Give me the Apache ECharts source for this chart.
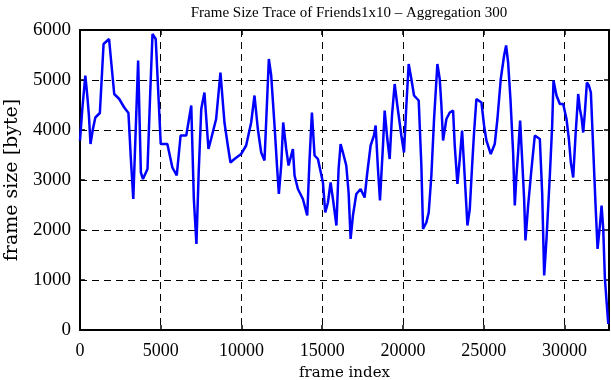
<!DOCTYPE html>
<html>
<head>
<meta charset="utf-8">
<script src="https://cdn.jsdelivr.net/npm/echarts@6/dist/echarts.min.js"></script>
<style>
  html, body { margin: 0; padding: 0; background: #fff; }
  #chart { width: 611px; height: 380px; }
</style>
</head>
<body>
<div id="chart"></div>
<script>
// frame index / frame size
const frames = [
  0, 150, 330, 450, 550, 650, 800, 950, 1230, 1460, 1800, 2120, 2430, 2740, 3000,
  3150, 3300, 3600, 3770, 3900, 4180, 4350, 4490, 4690, 5000, 5410, 5720, 5990,
  6230, 6580, 6890, 7050, 7210, 7350, 7510, 7706, 7954, 8119, 8430, 8698, 8946,
  9153, 9318, 9566, 9980, 10290, 10600, 10806, 11013, 11220, 11426, 11695, 11840,
  12047, 12212, 12315, 12460, 12584, 12770, 12915, 13184, 13287, 13494, 13804,
  14072, 14217, 14362, 14527, 14734, 15044, 15189, 15354, 15519, 15664, 15880,
  16014, 16138, 16283, 16490, 16634, 16758, 16903, 17110, 17378, 17626, 17792,
  17998, 18205, 18308, 18453, 18577, 18763, 18867, 19032, 19177, 19321, 19487,
  19652, 19900, 20065, 20210, 20355, 20520, 20686, 20975, 21140, 21244, 21450,
  21595, 21760, 21926, 22132, 22277, 22381, 22484, 22691, 22897, 23104, 23207,
  23373, 23518, 23662, 23786, 23993, 24138, 24283, 24404, 24548, 24860, 25024,
  25168, 25437, 25685, 25850, 26057, 26264, 26388, 26512, 26657, 26822, 26926,
  27029, 27132, 27256, 27380, 27504, 27587, 27752, 27959, 28166, 28476, 28621,
  28745, 28889, 29096, 29241, 29323, 29509, 29716, 29923, 30129, 30274, 30398,
  30543, 30687, 30853, 30956, 31060, 31163, 31266, 31390, 31514, 31638, 31783,
  31928, 32052, 32197, 32300, 32403, 32507, 32714
];
const sizes = [
  3790, 4450, 5090, 4690, 4300, 3720, 4020, 4250, 4340, 5720, 5820, 4720, 4620, 4450, 4340,
  3420, 2620, 5390, 3150, 3020, 3220, 4750, 5920, 5820, 3720, 3720, 3250, 3090,
  3890, 3890, 4490, 2620, 1720, 3150, 4420, 4750, 3620, 3820, 4220, 5150, 4150,
  3690, 3350, 3420, 3520, 3690, 4150, 4690, 4020, 3550, 3390, 5420, 5090,
  4090, 3220, 2720, 3290, 4150, 3620, 3290, 3620, 3090, 2820, 2620,
  2290, 3420, 4350, 3490, 3420, 2950, 2350, 2550, 2950, 2620, 2090,
  3220, 3720, 3550, 3290, 2750, 1820, 2290, 2720, 2820, 2650, 3150,
  3690, 3890, 4090, 3220, 2590, 3690, 4390, 3820, 3420, 4290, 4920,
  4490, 3890, 3550, 4490, 5320, 5020, 4690, 4590, 3290, 2020, 2150,
  2350, 3090, 4220, 5320, 5020, 4490, 3790, 4220, 4350, 4390, 3690,
  2920, 3420, 3990, 3290, 2090, 2420, 3290, 3950, 4620, 4550, 4090,
  3790, 3520, 3720, 4220, 5020, 5490, 5690, 5350, 4620, 3550, 2490,
  3090, 3550, 4190, 3420, 2620, 1790, 2490, 3220, 3890, 3820, 2750,
  1090, 1820, 3090, 4090, 4990, 4690, 4520, 4520, 4220, 3820, 3350,
  3050, 3890, 4720, 4420, 4250, 3950, 4350, 4950, 4890, 4750, 3620,
  2490, 1620, 2090, 2490, 2020, 1020, 120
];
const xTicks = [0, 5000, 10000, 15000, 20000, 25000, 30000];
const yTicks = [0, 1000, 2000, 3000, 4000, 5000, 6000];

const FONT = "Liberation Serif";
const WIDE = "DejaVu Serif";
const xMax = 32760;

let chart = echarts.init(document.getElementById("chart"));

let frameAxis = {
  type: "value",
  min: 0,
  max: xMax,
  interval: 5000,
  axisLine: { show: true, onZero: false, lineStyle: { color: "#000", width: 2 } },
  axisTick: { show: true, inside: true, length: 5, lineStyle: { color: "#000", width: 1.5 } },
  splitLine: { show: false },
  axisLabel: { show: false }
};
let sizeAxis = {
  type: "value",
  min: 0,
  max: 6000,
  interval: 1000,
  axisLine: { show: true, onZero: false, lineStyle: { color: "#000", width: 2 } },
  axisTick: { show: true, inside: true, length: 5, lineStyle: { color: "#000", width: 1.5 } },
  splitLine: { show: false },
  axisLabel: { show: false }
};

let options = {
  animation: false,
  backgroundColor: "#fff",
  title: {
    text: "Frame Size Trace of Friends1x10 \u2013 Aggregation 300",
    left: 344,
    textAlign: "center",
    top: 1,
    textStyle: { fontFamily: FONT, fontWeight: "normal", fontSize: 15, color: "#000" }
  },
  grid: { left: 80, right: 2, top: 30, bottom: 50, containLabel: false, outerBoundsMode: "none" },
  xAxis: [
    Object.assign({}, frameAxis, {
      position: "bottom",
      name: "frame index",
      nameLocation: "middle",
      nameGap: 36,
      nameTextStyle: { fontFamily: WIDE, fontSize: 15, color: "#000" },
      splitLine: { show: true, lineStyle: { color: "#000", type: [7, 5], width: 1 } },
      axisLabel: {
        show: true,
        showMaxLabel: false,
        margin: 12,
        fontFamily: FONT,
        fontSize: 18,
        color: "#000",
        formatter: v => (xTicks.indexOf(v) >= 0 ? String(v) : "")
      }
    }),
    Object.assign({}, frameAxis, { position: "top" })
  ],
  yAxis: [
    Object.assign({}, sizeAxis, {
      position: "left",
      name: "frame size [byte]",
      nameLocation: "middle",
      nameGap: 58,
      nameTextStyle: { fontFamily: WIDE, fontSize: 19, color: "#000" },
      splitLine: { show: true, lineStyle: { color: "#000", type: [7, 5], width: 1 } },
      axisLabel: {
        show: true,
        margin: 9,
        fontFamily: FONT,
        fontSize: 19,
        color: "#000",
        formatter: v => (yTicks.indexOf(v) >= 0 ? String(v) : "")
      }
    }),
    Object.assign({}, sizeAxis, { position: "right" })
  ],
  series: [
    {
      type: "line",
      data: frames.map((f, i) => [f, sizes[i]]),
      showSymbol: false,
      lineStyle: { color: "#0000ff", width: 2.5 },
      itemStyle: { color: "#0000ff" },
      z: 3
    }
  ]
};

chart.setOption(options);
</script>
</body>
</html>
